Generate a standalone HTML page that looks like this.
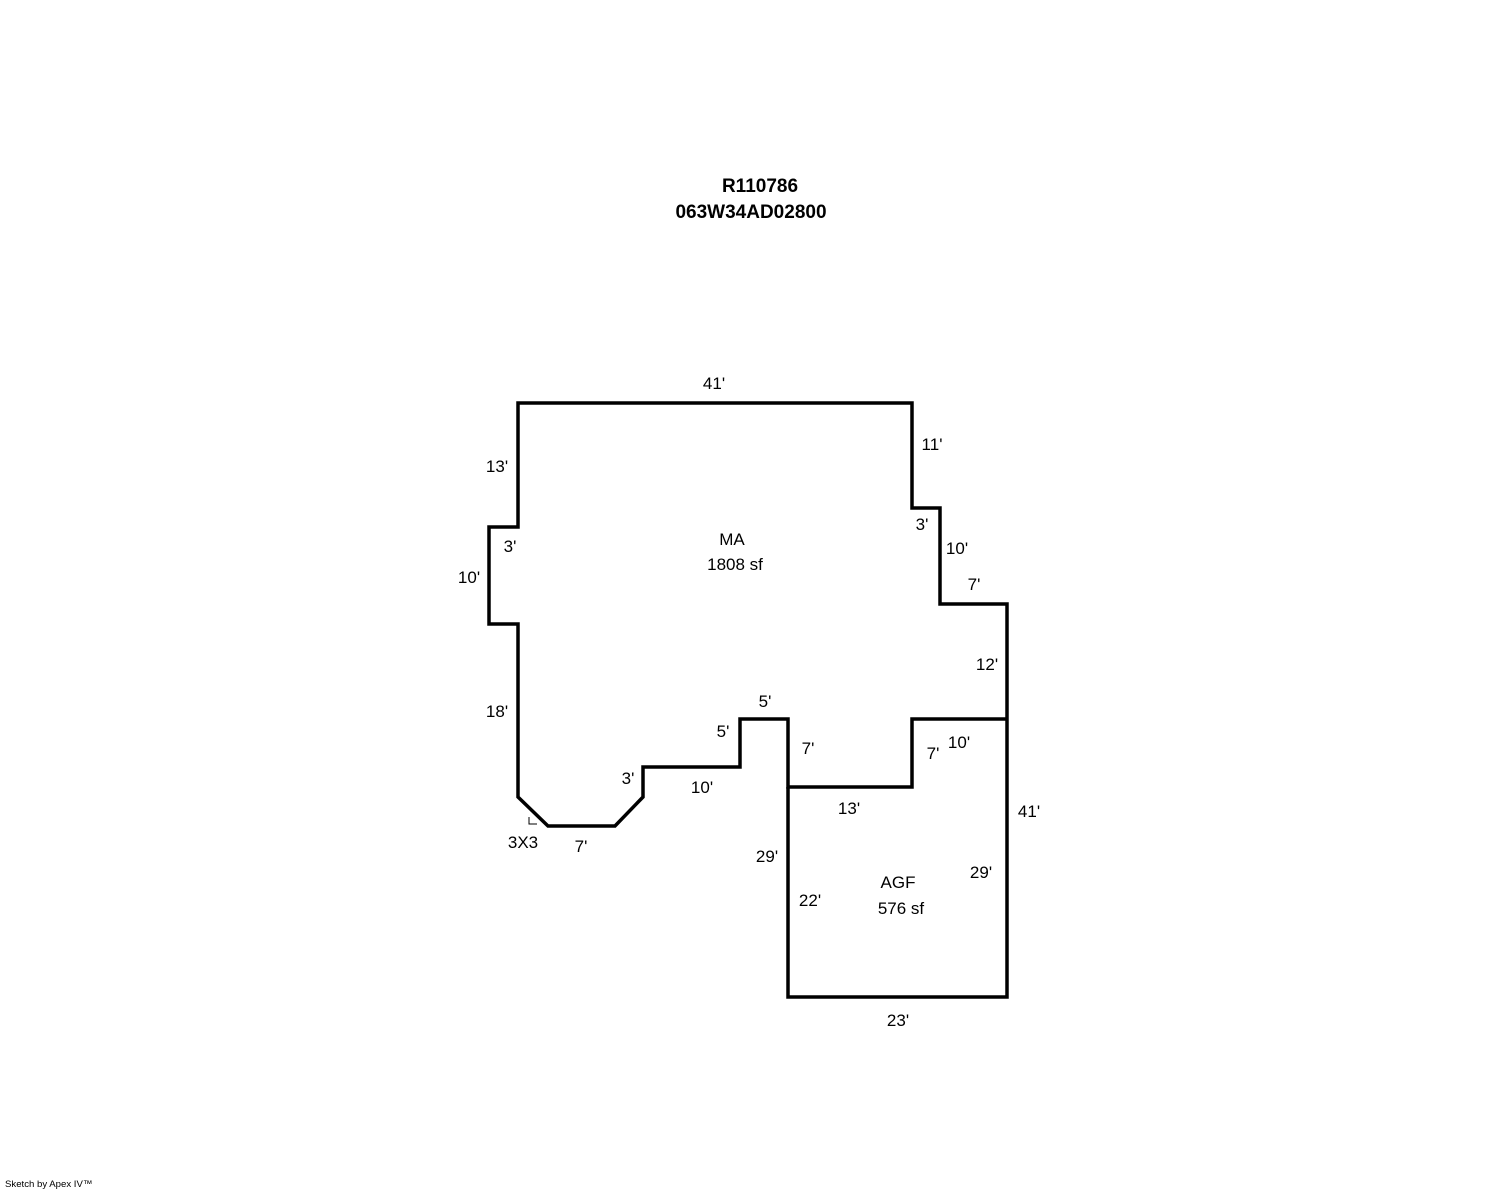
<!DOCTYPE html>
<html><head><meta charset="utf-8"><style>
html,body{margin:0;padding:0;background:#fff;}
svg{display:block}
text{font-family:"Liberation Sans",Arial,sans-serif;font-size:17px;fill:#000}
</style></head><body>
<svg width="1488" height="1190" viewBox="0 0 1488 1190" xmlns="http://www.w3.org/2000/svg">
<g fill="none" stroke="#000" stroke-width="3.5" stroke-linejoin="miter">
<polyline points="1007,719 912,719 912,787 788,787 788,719 740,719 740,767 643,767 643,797 615,826 548,826 518,797 518,624 489,624 489,527 518,527 518,403 912,403 912,508 940,508 940,604 1007,604 1007,719"/>
<polyline points="788,787 788,997 1007,997 1007,719"/>
</g>
<polyline points="529,817 529,824 537,824" fill="none" stroke="#000" stroke-width="1"/>
<text x="760" y="192" text-anchor="middle" font-weight="bold" style="font-size:19px">R110786</text>
<text x="751" y="218" text-anchor="middle" font-weight="bold" style="font-size:19px">063W34AD02800</text>
<text x="714" y="389" text-anchor="middle">41'</text>
<text x="932" y="450" text-anchor="middle">11'</text>
<text x="497" y="472" text-anchor="middle">13'</text>
<text x="922" y="530" text-anchor="middle">3'</text>
<text x="510" y="552" text-anchor="middle">3'</text>
<text x="957" y="554" text-anchor="middle">10'</text>
<text x="732" y="545" text-anchor="middle">MA</text>
<text x="735" y="570" text-anchor="middle">1808 sf</text>
<text x="469" y="583" text-anchor="middle">10'</text>
<text x="974" y="590" text-anchor="middle">7'</text>
<text x="987" y="670" text-anchor="middle">12'</text>
<text x="765" y="707" text-anchor="middle">5'</text>
<text x="497" y="717" text-anchor="middle">18'</text>
<text x="723" y="737" text-anchor="middle">5'</text>
<text x="959" y="748" text-anchor="middle">10'</text>
<text x="808" y="754" text-anchor="middle">7'</text>
<text x="933" y="759" text-anchor="middle">7'</text>
<text x="628" y="784" text-anchor="middle">3'</text>
<text x="702" y="793" text-anchor="middle">10'</text>
<text x="849" y="814" text-anchor="middle">13'</text>
<text x="1029" y="817" text-anchor="middle">41'</text>
<text x="523" y="848" text-anchor="middle">3X3</text>
<text x="581" y="852" text-anchor="middle">7'</text>
<text x="767" y="862" text-anchor="middle">29'</text>
<text x="981" y="878" text-anchor="middle">29'</text>
<text x="898" y="888" text-anchor="middle">AGF</text>
<text x="810" y="906" text-anchor="middle">22'</text>
<text x="901" y="914" text-anchor="middle">576 sf</text>
<text x="898" y="1026" text-anchor="middle">23'</text>
<text x="5" y="1187" style="font-size:9.6px">Sketch by Apex IV™</text>
</svg>
</body></html>
